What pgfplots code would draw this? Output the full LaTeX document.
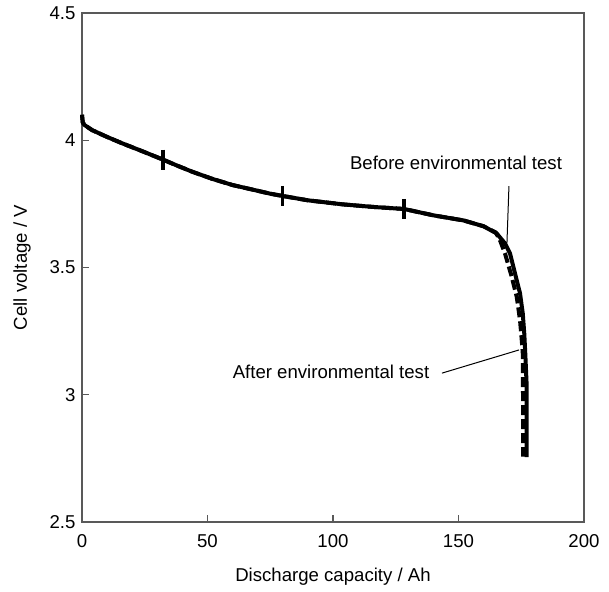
\documentclass[border=0pt]{standalone}
\usepackage{fontspec}
\setmainfont{Liberation Sans}
\usepackage{pgfplots}
\pgfplotsset{compat=1.18}

\begin{document}
\fontsize{9.3}{11}\selectfont
\begin{tikzpicture}
\begin{axis}[
    scale only axis,
    width=251pt, height=254.5pt,
    xmin=0, xmax=200,
    ymin=2.5, ymax=4.5,
    xtick={0,50,100,150,200},
    ytick={2.5,3,3.5,4,4.5},
    tick pos=left,
    tick align=inside,
    major tick length=3.5pt,
    axis line style={black!65, line width=0.6pt},
    tick style={black!65, line width=0.6pt},
    tick label style={font=\fontsize{9.3}{11}\selectfont},
    xticklabel style={anchor=base, yshift=-12.75pt},
    label style={font=\fontsize{9.3}{11}\selectfont},
    /pgf/number format/assume math mode=true,
    xlabel={Discharge capacity / Ah},
    ylabel={Cell voltage / V},
    xlabel style={at={([yshift=-29.5pt]axis description cs:0.5,0)}, anchor=base},
    ylabel style={at={([xshift=-27.5pt]axis description cs:0,0.5)}, anchor=base},
    clip=false,
]
% after environmental test (dashed)
\addplot[black, line width=2pt, dash pattern=on 5pt off 2pt]
    coordinates {(0,4.10)(0.3,4.07)(1,4.06)(4,4.04)(10,4.013)(16,3.988)(24,3.957)
    (32,3.925)(38,3.90)(44,3.876)(52,3.848)(60,3.824)(68,3.806)(75,3.79)(80,3.781)
    (90,3.764)(104,3.748)(116,3.738)(128.3,3.73)(140,3.705)(152,3.685)(160,3.662)
    (164.8,3.638)(166.5,3.608)(168.5,3.556)(171.2,3.464)(173.2,3.385)(174.5,3.294)
    (175.2,3.215)(175.6,3.163)(175.7,3.0)(175.7,2.757)};
% before environmental test (solid)
\addplot[black, line width=2pt]
    coordinates {(0,4.10)(0.3,4.07)(1,4.06)(4,4.04)(10,4.013)(16,3.988)(24,3.957)
    (32,3.925)(38,3.90)(44,3.876)(52,3.848)(60,3.824)(68,3.806)(75,3.79)(80,3.781)
    (90,3.764)(104,3.748)(116,3.738)(128.3,3.73)(140,3.705)(152,3.685)(160,3.662)
    (165.2,3.634)(168.5,3.595)(170.5,3.556)(172.5,3.477)(174.5,3.399)(175.6,3.32)
    (176.2,3.241)(176.6,3.163)(177.1,3.05)(177.1,2.755)};
% vertical marks on the curve
\addplot[only marks, mark=|, mark size=5pt, mark options={line width=1.6pt, black}]
    coordinates {(32.3,3.924)(80,3.781)(128.3,3.73)};

\node at (axis cs:149,3.91) {Before environmental test};
\draw[line width=0.5pt] (axis cs:170.1,3.82) -- (axis cs:169.3,3.596);
\node at (axis cs:99.2,3.09) {After environmental test};
\draw[line width=0.5pt] (axis cs:143.4,3.085) -- (axis cs:174.1,3.176);
\end{axis}
\path[use as bounding box] ([shift={(-41pt,-32pt)}]current axis.south west)
    rectangle ([shift={(263.5pt,261pt)}]current axis.south west);
\end{tikzpicture}
\end{document}
